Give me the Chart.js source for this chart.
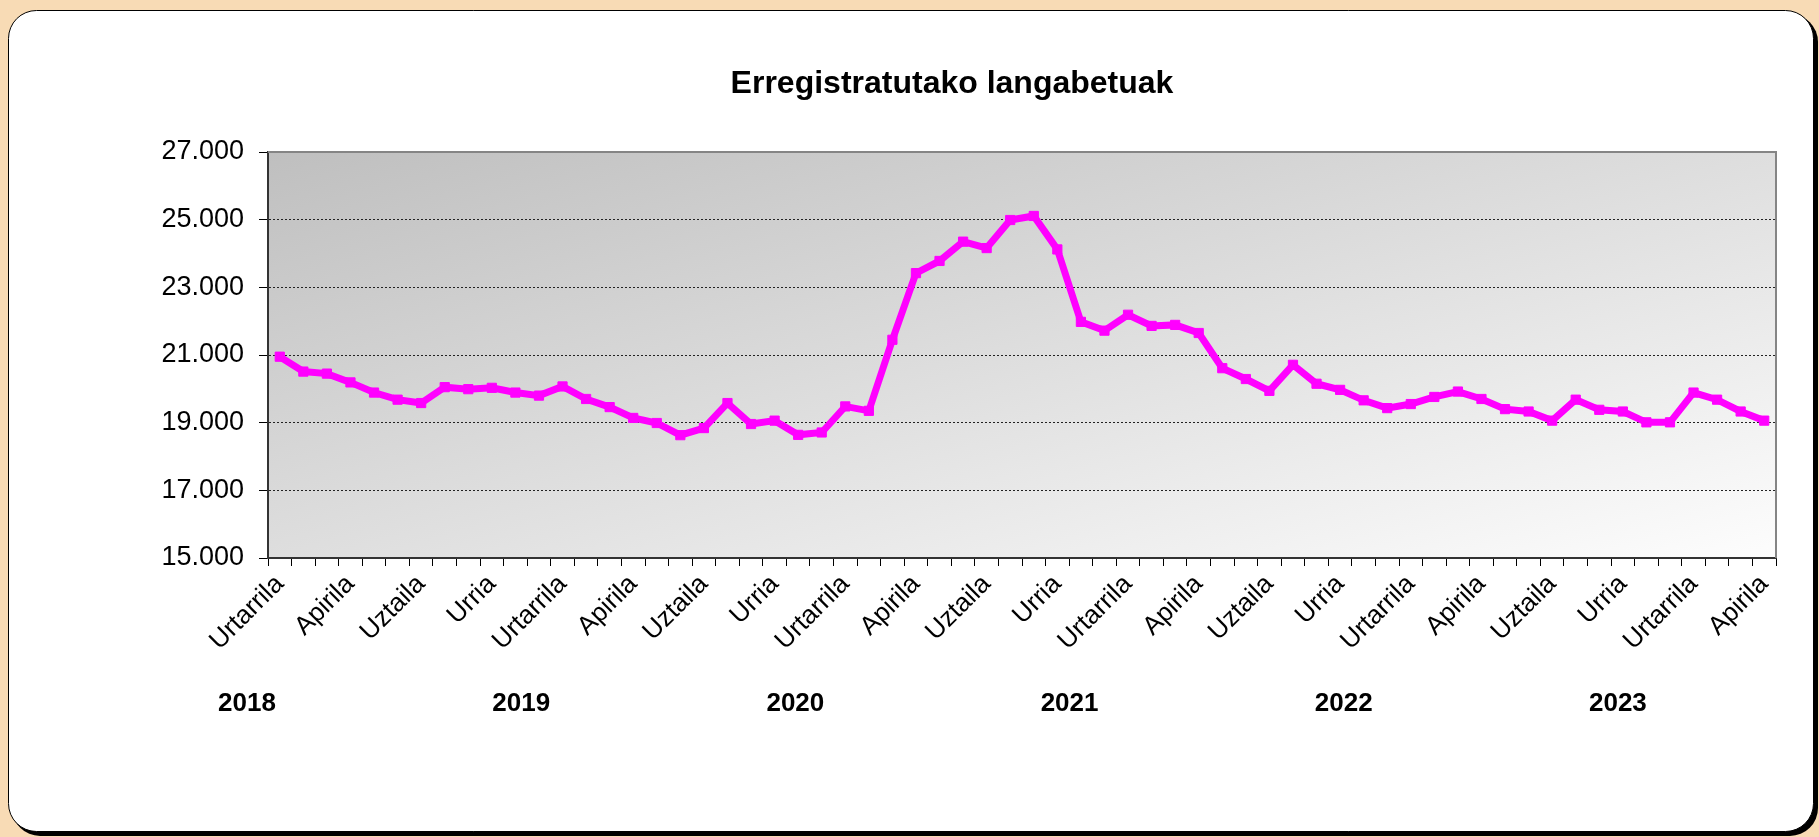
<!DOCTYPE html>
<html>
<head>
<meta charset="utf-8">
<script src="https://cdn.jsdelivr.net/npm/chart.js@4/dist/chart.umd.min.js"></script>
<style>
    body { margin: 0; background: #f8dbb5; }
    canvas { display: block; }
</style>
</head>
<body>
<canvas id="myChart" width="1819" height="837"></canvas>
<script>
// Basque month names, one category per month from Jan 2018 to Apr 2023
const monthNames = ['Urtarrila', 'Otsaila', 'Martxoa', 'Apirila', 'Maiatza', 'Ekaina',
    'Uztaila', 'Abuztua', 'Iraila', 'Urria', 'Azaroa', 'Abendua'];
const years = ['2018', '2019', '2020', '2021', '2022', '2023'];
const unemployed = [
    20950, 20510, 20450, 20190, 19890, 19680, 19580, 20050, 19990, 20030, 19890, 19800,
    20070, 19700, 19460, 19140, 18990, 18630, 18840, 19580, 18960, 19060, 18640, 18710,
    19480, 19350, 21450, 23420, 23780, 24350, 24160, 24990, 25110, 24120, 21980, 21720,
    22190, 21860, 21890, 21650, 20610, 20290, 19940, 20710, 20150, 19970, 19660, 19430,
    19550, 19760, 19920, 19700, 19400, 19330, 19060, 19680, 19380, 19330, 19010, 19010,
    19890, 19680, 19330, 19060
];
const yTicks = [15000, 17000, 19000, 21000, 23000, 25000, 27000];
const title = 'Erregistratutako langabetuak';

const labels = unemployed.map((v, i) => monthNames[i % 12]);
const font = '"Liberation Sans", Arial, sans-serif';

function fmt(v) {
    return String(v).replace(/\B(?=(\d{3})+(?!\d))/g, '.');
}

function roundRect(ctx, x, y, w, h, r) {
    ctx.beginPath();
    ctx.moveTo(x + r, y);
    ctx.lineTo(x + w - r, y);
    ctx.arcTo(x + w, y, x + w, y + r, r);
    ctx.lineTo(x + w, y + h - r);
    ctx.arcTo(x + w, y + h, x + w - r, y + h, r);
    ctx.lineTo(x + r, y + h);
    ctx.arcTo(x, y + h, x, y + h - r, r);
    ctx.lineTo(x, y + r);
    ctx.arcTo(x, y, x + r, y, r);
    ctx.closePath();
}

const frame = {
    id: 'frame',
    beforeDraw(chart) {
        const ctx = chart.ctx;
        const a = chart.chartArea;
        ctx.save();
        ctx.fillStyle = '#f8dbb5';
        ctx.fillRect(0, 0, chart.width, chart.height);
        // shadow + white card
        ctx.fillStyle = '#000';
        roundRect(ctx, 12, 14, 1806, 822, 28);
        ctx.fill();
        ctx.fillStyle = '#fff';
        ctx.strokeStyle = '#000';
        ctx.lineWidth = 1;
        roundRect(ctx, 8.5, 10.5, 1805, 821, 28);
        ctx.fill();
        ctx.stroke();
        // plot area gradient
        const w = a.right - a.left, h = a.bottom - a.top;
        const t = 2 * w * h / (w * w + h * h);
        const g = ctx.createLinearGradient(a.left, a.top, a.left + t * h, a.top + t * w);
        g.addColorStop(0, '#bfbfbf');
        g.addColorStop(1, '#fdfdfd');
        ctx.fillStyle = g;
        ctx.fillRect(a.left, a.top, w, h);
        ctx.restore();
    },
    beforeDatasetsDraw(chart) {
        const ctx = chart.ctx;
        const a = chart.chartArea;
        ctx.save();
        ctx.strokeStyle = '#858585';
        ctx.lineWidth = 2;
        ctx.beginPath();
        ctx.moveTo(a.left, a.top);
        ctx.lineTo(a.right, a.top);
        ctx.lineTo(a.right, a.bottom);
        ctx.stroke();
        ctx.restore();
    },
    afterDraw(chart) {
        const ctx = chart.ctx;
        const a = chart.chartArea;
        ctx.save();
        ctx.fillStyle = '#000';
        ctx.textAlign = 'center';
        ctx.textBaseline = 'middle';
        ctx.font = 'bold 32px ' + font;
        ctx.fillText(title, 952, 84);
        ctx.font = 'bold 26px ' + font;
        const step = (a.right - a.left) * 2 / 11;
        years.forEach((y, k) => {
            ctx.fillText(y, a.left - 21 + k * step, 704);
        });
        ctx.restore();
    }
};

new Chart(document.getElementById('myChart'), {
    type: 'line',
    data: {
        labels: labels,
        datasets: [{
            data: unemployed,
            borderColor: '#ff00ff',
            backgroundColor: '#ff00ff',
            borderWidth: 7,
            pointStyle: 'rect',
            pointRadius: 6.5,
            pointBorderWidth: 1,
            tension: 0
        }]
    },
    options: {
        responsive: false,
        animation: false,
        layout: { padding: { top: 152, right: 43, left: 0, bottom: 0 } },
        plugins: {
            legend: { display: false },
            tooltip: { enabled: false },
            title: { display: false }
        },
        scales: {
            x: {
                offset: true,
                afterFit: s => { s.height = 837 - 558; },
                grid: {
                    offset: true,
                    drawOnChartArea: false,
                    tickLength: 8,
                    tickColor: '#000',
                    color: '#000'
                },
                border: { color: '#333', width: 2 },
                ticks: {
                    autoSkip: false,
                    minRotation: 45,
                    maxRotation: 45,
                    padding: 3,
                    color: '#000',
                    font: { family: font, size: 26 },
                    callback: function (v, i) { return i % 3 === 0 ? this.getLabelForValue(v) : ''; }
                }
            },
            y: {
                min: 15000,
                max: 27000,
                afterFit: s => { s.width = 268; },
                afterBuildTicks: s => { s.ticks = yTicks.map(v => ({ value: v })); },
                grid: {
                    color: c => (c.tick && (c.tick.value === 27000 || c.tick.value === 15000)) ? 'rgba(0,0,0,0)' : '#222',
                    tickColor: '#000',
                    tickLength: 9,
                    tickBorderDash: [],
                    lineWidth: 1
                },
                border: { color: '#333', width: 2, dash: [2, 2] },
                ticks: {
                    padding: 15,
                    color: '#000',
                    font: { family: font, size: 27 },
                    callback: v => fmt(v)
                }
            }
        }
    },
    plugins: [frame]
});
</script>
</body>
</html>
